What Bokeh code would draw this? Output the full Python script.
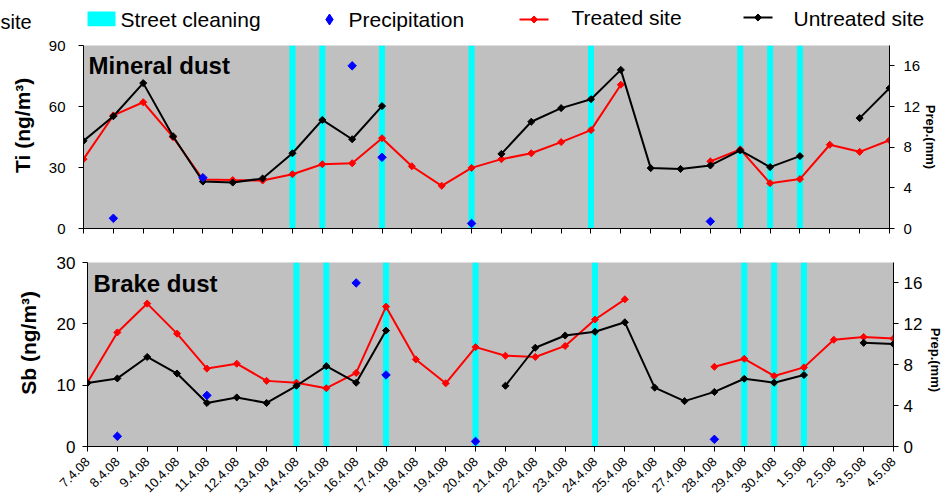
import numpy as np
from math import pi
from bokeh.plotting import figure
from bokeh.models import Range1d, LinearAxis, FixedTicker, ColumnDataSource
from bokeh.layouts import column
from bokeh.embed import file_html
from bokeh.resources import INLINE
from bokeh.core.properties import value

# ---------------- data ----------------
dates = ["7.4.08", "8.4.08", "9.4.08", "10.4.08", "11.4.08", "12.4.08", "13.4.08",
         "14.4.08", "15.4.08", "16.4.08", "17.4.08", "18.4.08", "19.4.08", "20.4.08",
         "21.4.08", "22.4.08", "23.4.08", "24.4.08", "25.4.08", "26.4.08", "27.4.08",
         "28.4.08", "29.4.08", "30.4.08", "1.5.08", "2.5.08", "3.5.08", "4.5.08"]

ti_treated = [34.1, 55.6, 62.1, 44.9, 24.1, 23.8, 23.6, 26.7, 31.6, 32.1, 44.4, 30.6,
              21.0, 29.8, 34.1, 37.0, 42.5, 48.4, 70.7, None, None, 33.0, 38.9, 22.3,
              24.3, 41.2, 37.7, 43.4]
ti_untreated = [43.1, 55.2, 71.5, 45.4, 23.1, 22.6, 24.6, 37.0, 53.4, 43.9, 60.2, None,
                None, None, 36.7, 52.5, 59.2, 63.6, 78.0, 29.7, 29.3, 31.0, 38.4, 30.2,
                35.6, None, 54.3, 69.0]
sb_treated = [10.45, 18.6, 23.3, 18.4, 12.7, 13.5, 10.7, 10.4, 9.5, 12.0, 22.8, 14.2,
              10.3, 16.2, 14.8, 14.6, 16.4, 20.7, 24.0, None, None, 13.0, 14.3, 11.5,
              12.9, 17.4, 17.85, 17.6]
sb_untreated = [10.35, 11.1, 14.6, 11.9, 7.1, 8.0, 7.1, 9.9, 13.1, 10.4, 18.9, None,
                None, None, 9.9, 16.1, 18.1, 18.7, 20.25, 9.6, 7.4, 8.9, 11.05, 10.4,
                11.65, None, 16.9, 16.7]

cleaning_dates = ["14.4.08", "15.4.08", "17.4.08", "20.4.08", "24.4.08",
                  "29.4.08", "30.4.08", "1.5.08"]
precip_dates = ["8.4.08", "11.4.08", "16.4.08", "17.4.08", "20.4.08", "28.4.08"]
precip_mm = [1.0, 5.0, 16.0, 7.0, 0.5, 0.7]

ti_ticks = [0, 30, 60, 90]
sb_ticks = [0, 10, 20, 30]
prep_ticks = [0, 4, 8, 12, 16]
legend_labels = ["Street cleaning", "Precipitation", "Treated site", "Untreated site"]

# ---------------- styles ----------------
FONT = "Liberation Sans"
BG = "#C0C0C0"
CYAN = "#00FFFF"
RED = "#FF0000"
BLACK = "#000000"
BLUE = "#0000FF"
NB = "\u00a0"   # non-breaking spaces used only to nudge rotated axis titles


idx = {d: i for i, d in enumerate(dates)}
xs = np.arange(len(dates))
clean_x = [idx[d] for d in cleaning_dates]
precip_x = [idx[d] for d in precip_dates]


def arr(v):
    return np.array([np.nan if a is None else a for a in v], dtype=float)


def style_axis(ax, size):
    ax.axis_line_color = BLACK
    ax.axis_line_width = 1
    ax.major_tick_line_color = BLACK
    ax.major_tick_in = 0
    ax.major_tick_out = 5
    ax.minor_tick_line_color = None
    ax.major_label_text_font = FONT
    ax.major_label_text_font_size = size
    ax.major_label_text_color = BLACK
    ax.axis_label_text_font = FONT
    ax.axis_label_text_font_style = "bold"
    ax.axis_label_text_color = BLACK


def panel(vals_t, vals_u, ymax, yticks, ylabel, title, show_labels,
          left, right, top, bottom, fheight, tick_size, lab_standoff, ax_standoff,
          r_lab_standoff, r_ax_standoff, r_label, title_dx, title_dy):
    p = figure(frame_width=806, frame_height=fheight,
               min_border_left=left, min_border_right=right,
               min_border_top=top, min_border_bottom=bottom,
               x_range=Range1d(0, len(dates) - 1), y_range=Range1d(0, ymax),
               toolbar_location=None, output_backend="svg",
               background_fill_color=BG, border_fill_color="white",
               outline_line_color=None, frame_align=False)
    p.extra_y_ranges = {"prep": Range1d(0, 18)}
    p.xgrid.visible = False
    p.ygrid.visible = False

    # left axis
    ya = p.yaxis[0]
    ya.ticker = FixedTicker(ticks=yticks)
    ya.axis_label = ylabel
    style_axis(ya, tick_size)
    ya.axis_label_text_font_size = "21px"
    ya.major_label_standoff = lab_standoff
    ya.axis_label_standoff = ax_standoff

    # right axis
    ra = LinearAxis(y_range_name="prep", ticker=FixedTicker(ticks=prep_ticks),
                    axis_label=r_label)
    style_axis(ra, tick_size)
    ra.axis_label_text_font_size = "13px"
    ra.major_label_standoff = r_lab_standoff
    ra.axis_label_standoff = r_ax_standoff
    p.add_layout(ra, "right")

    # x axis
    xa = p.xaxis[0]
    xa.ticker = FixedTicker(ticks=list(range(len(dates))))
    style_axis(xa, "13px")
    if show_labels:
        xa.major_label_overrides = {i: d for i, d in enumerate(dates)}
        xa.major_label_orientation = pi / 4
        xa.major_label_standoff = 8
    else:
        xa.major_label_overrides = {i: "" for i in range(len(dates))}
        xa.major_label_standoff = 0

    # street cleaning bars
    p.vbar(x=clean_x, width=0.2, bottom=0, top=ymax, fill_color=CYAN,
           line_color=None)

    # series
    src = ColumnDataSource(dict(x=xs, t=arr(vals_t), u=arr(vals_u)))
    p.line("x", "t", source=src, line_color=RED, line_width=2)
    p.scatter("x", "t", source=src, marker="square", angle=pi / 4, size=5,
              fill_color=RED, line_color=RED)
    p.line("x", "u", source=src, line_color=BLACK, line_width=2)
    p.scatter("x", "u", source=src, marker="square", angle=pi / 4, size=5,
              fill_color=BLACK, line_color=BLACK)

    # precipitation
    p.scatter(x=precip_x, y=precip_mm, y_range_name="prep", marker="square",
              angle=pi / 4, size=6, fill_color=BLUE, line_color=BLUE)

    p.text(x=[title_dx], y=[title_dy], text=[title], text_font=value(FONT),
           text_font_style="bold", text_font_size=value("24px"),
           text_color=BLACK, text_baseline="middle")
    return p


# ---------------- legend strip ----------------
leg = figure(width=945, height=38, x_range=Range1d(0, 945), y_range=Range1d(38, 0),
             x_axis_type=None, y_axis_type=None, toolbar_location=None,
             output_backend="svg", min_border=0, outline_line_color=None,
             background_fill_color="white", border_fill_color="white",
             frame_align=False)


def leg_text(x, y, s, size="21px"):
    leg.text(x=[x], y=[y], text=[s], text_font=value(FONT),
             text_font_size=value(size), text_color=BLACK,
             text_baseline="middle")


leg_text(0, 21, "site", "20px")
leg.rect(x=[101], y=[18.4], width=28, height=14.7, fill_color=CYAN, line_color=None)
leg_text(120, 18.6, legend_labels[0])
leg.scatter(x=[329], y=[19], marker="diamond", size=11, fill_color=BLUE, line_color=BLUE)
leg_text(348, 18.6, legend_labels[1])
leg.line(x=[519, 548], y=[19, 19], line_color=RED, line_width=2)
leg.scatter(x=[533.5], y=[19], marker="square", angle=pi / 4, size=5,
            fill_color=RED, line_color=RED)
leg_text(571, 16.6, legend_labels[2])
leg.line(x=[743, 772], y=[17, 17], line_color=BLACK, line_width=2)
leg.scatter(x=[757.5], y=[17], marker="square", angle=pi / 4, size=5,
            fill_color=BLACK, line_color=BLACK)
leg_text(793, 17.6, legend_labels[3])

# ---------------- panels ----------------
p1 = panel(ti_treated, ti_untreated, 90, ti_ticks, NB * 4 + "Ti (ng/m³)", "Mineral dust",
           False, left=83, right=56, top=7, bottom=22, fheight=183, tick_size="15px",
           lab_standoff=13, ax_standoff=12, r_lab_standoff=9, r_ax_standoff=0,
           r_label="Prep.(mm)", title_dx=0.17, title_dy=80.3)
p2 = panel(sb_treated, sb_untreated, 30, sb_ticks, NB * 4 + "Sb (ng/m³)", "Brake dust",
           True, left=87, right=52, top=12, bottom=55, fheight=184, tick_size="17px",
           lab_standoff=7, ax_standoff=14, r_lab_standoff=5, r_ax_standoff=3,
           r_label=NB * 3 + "Prep.(mm)", title_dx=0.2, title_dy=26.6)

layout = column(leg, p1, p2, spacing=0)
open("out.html", "w").write(file_html(layout, INLINE))
